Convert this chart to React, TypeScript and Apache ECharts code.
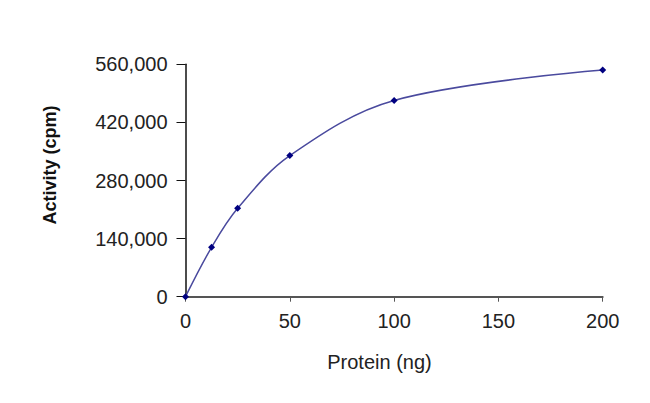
import React, { useEffect, useRef } from "react";
import * as echarts from "echarts";

const proteinNg = [0, 12.5, 25, 50, 100, 200];
const activityCpm = [0, 119000, 213000, 340000, 473000, 546000];
const xTicks = [0, 50, 100, 150, 200];
const yTicks = [0, 140000, 280000, 420000, 560000];
const xTitle = "Protein (ng)";
const yTitle = "Activity (cpm)";

const FONT = '"Liberation Sans", Arial, sans-serif';

export default function App() {
  const ref = useRef<HTMLDivElement>(null);
  useEffect(() => {
    if (!ref.current) return;
    const chart = echarts.init(ref.current, null, { renderer: "svg" });
    chart.setOption({
      animation: false,
      backgroundColor: "#ffffff",
      grid: { left: 185.5, right: 47.3, top: 64.3, bottom: 106.3, containLabel: false },
      xAxis: {
        type: "value",
        min: xTicks[0],
        max: xTicks[xTicks.length - 1],
        interval: xTicks[1] - xTicks[0],
        axisLine: { show: true, onZero: false, lineStyle: { color: "#555555", width: 2 } },
        axisTick: { show: true, length: 5, lineStyle: { color: "#555555", width: 1 } },
        axisLabel: { margin: 14, fontSize: 20, fontFamily: FONT, color: "#222222" },
        splitLine: { show: false },
      },
      yAxis: {
        type: "value",
        min: yTicks[0],
        max: yTicks[yTicks.length - 1],
        interval: yTicks[1] - yTicks[0],
        axisLine: { show: true, onZero: false, lineStyle: { color: "#111111", width: 1.5 } },
        axisTick: { show: true, length: 9, lineStyle: { color: "#111111", width: 1 } },
        axisLabel: {
          margin: 18,
          fontSize: 20,
          fontFamily: FONT,
          color: "#222222",
          formatter: (v: number) => v.toLocaleString("en-US"),
        },
        splitLine: { show: false },
      },
      graphic: [
        {
          type: "text",
          x: 379.5,
          y: 362,
          style: {
            text: xTitle,
            font: `20px ${FONT}`,
            fill: "#222222",
            align: "center",
            verticalAlign: "middle",
          },
        },
        {
          type: "text",
          x: 49.5,
          y: 165,
          rotation: Math.PI / 2,
          style: {
            text: yTitle,
            font: `bold 18px ${FONT}`,
            fill: "#111111",
            align: "center",
            verticalAlign: "middle",
          },
        },
      ],
      series: [
        {
          type: "line",
          data: proteinNg.map((x, i) => [x, activityCpm[i]]),
          smooth: 0.35,
          symbol: "diamond",
          symbolSize: 7,
          showSymbol: true,
          itemStyle: { color: "#000080" },
          lineStyle: { color: "#4a4a9e", width: 1.5 },
        },
      ],
    });
    return () => chart.dispose();
  }, []);
  return (
    <div
      ref={ref}
      style={{ position: "absolute", left: 0, top: 0, width: 650, height: 403 }}
    />
  );
}
